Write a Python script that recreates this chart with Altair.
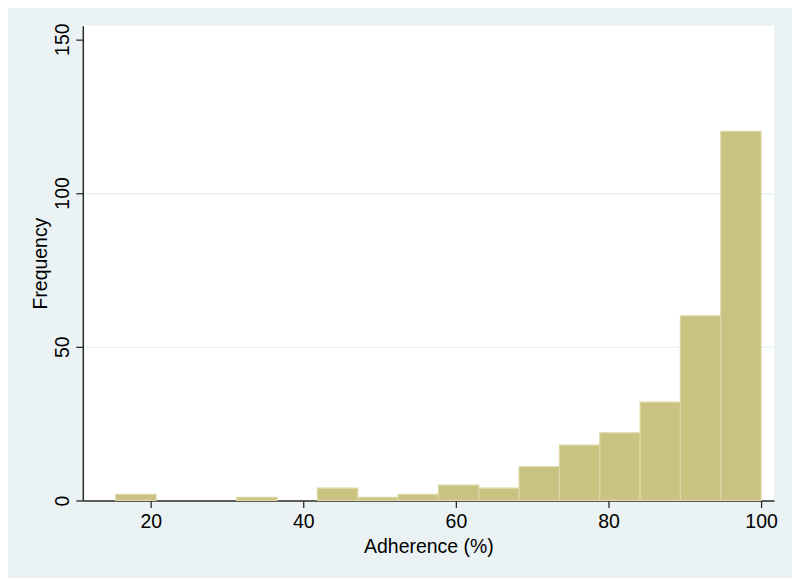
import altair as alt
import pandas as pd

# Histogram bins (16 bins, width ~5.29, from ~15.4 to 100)
bin_start = [15.41, 20.70, 25.99, 31.27, 36.56, 41.85, 47.14, 52.42, 57.71, 63.00,
             68.28, 73.57, 78.86, 84.15, 89.43, 94.72]
bin_end = [20.70, 25.99, 31.27, 36.56, 41.85, 47.14, 52.42, 57.71, 63.00, 68.28,
           73.57, 78.86, 84.15, 89.43, 94.72, 100.0]
counts = [2, 0, 0, 1, 0, 4, 1, 2, 5, 4, 11, 18, 22, 32, 60, 120]

x_ticks = [20, 40, 60, 80, 100]
y_ticks = [0, 50, 100, 150]

df = pd.DataFrame({"start": bin_start, "end": bin_end, "count": counts})

font = "Liberation Sans"
axis_color = "#2b2b2b"
fs = 19.5

chart = (
    alt.Chart(df)
    .transform_filter("datum.count > 0")
    .mark_rect(fill="#CAC280", stroke="#DDD7A6", strokeWidth=1.2)
    .encode(
        x=alt.X(
            "start:Q",
            scale=alt.Scale(domain=[11.1, 101.7], nice=False, zero=False),
            axis=alt.Axis(
                values=x_ticks,
                title="Adherence (%)",
                grid=False,
                domainColor=axis_color,
                domainWidth=1.5,
                tickColor=axis_color,
                tickWidth=1.3,
                tickSize=7,
                labelFont=font,
                labelFontSize=fs,
                labelColor="#000000",
                labelPadding=5,
                titleFont=font,
                titleFontSize=fs,
                titleFontWeight="normal",
                titleColor="#000000",
                titlePadding=7,
            ),
        ),
        x2="end:Q",
        y=alt.Y(
            "count:Q",
            scale=alt.Scale(domain=[0, 154.4], nice=False),
            axis=alt.Axis(
                values=y_ticks,
                title="Frequency",
                grid=True,
                gridColor="#EAF2F3",
                gridWidth=1.3,
                gridOpacity={"condition": {"test": "datum.value > 0 && datum.value < 150", "value": 1}, "value": 0},
                domainColor=axis_color,
                domainWidth=1.5,
                tickColor=axis_color,
                tickWidth=1.3,
                tickSize=7,
                labelAngle=270,
                labelAlign="center",
                labelBaseline="bottom",
                labelFont=font,
                labelFontSize=fs,
                labelColor="#000000",
                labelPadding=3,
                titleFont=font,
                titleFontSize=fs,
                titleFontWeight="normal",
                titleColor="#000000",
                titlePadding=2,
            ),
        ),
        y2=alt.datum(0),
    )
    .properties(
        width=693,
        height=476,
        autosize=alt.AutoSizeParams(type="none"),
        padding={"left": 75, "top": 17, "right": 18, "bottom": 77},
        background="#EAF2F3",
    )
    .configure_view(fill="#FFFFFF", stroke=None)
)

chart.save("out.html", embed_options={"renderer": "svg", "actions": False})
